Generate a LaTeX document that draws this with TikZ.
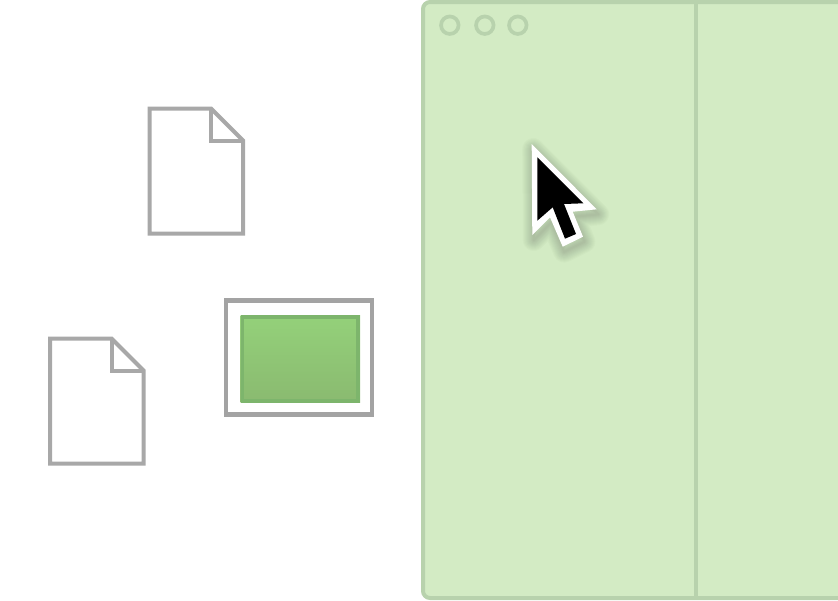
\documentclass[tikz,border=0pt]{standalone}
\definecolor{winfill}{HTML}{D3EBC4}
\definecolor{winline}{HTML}{B8D2AD}
\definecolor{docline}{HTML}{A8A8A8}
\definecolor{selline}{HTML}{A3A3A3}
\definecolor{gtop}{HTML}{94D17A}
\definecolor{gbot}{HTML}{8ABA70}
\definecolor{gline}{HTML}{7DB56C}
\tikzset{
  docline/.style={draw=docline,line width=4pt,miter limit=10,line join=miter},
  winline/.style={draw=winline,line width=4pt},
  dot/.style={circle,draw=winline,line width=3.7pt,minimum size=17.5pt,inner sep=0pt},
}
\newcommand{\docicon}[2]{%
  \begin{scope}[shift={(#1,#2)}]
    \draw[docline,fill=white] (149.5,108.5) -- (211,108.5) -- (243,140.5) -- (243,233.5) -- (149.5,233.5) -- cycle;
    \draw[docline] (211,108.5) -- (211,140.5) -- (243,140.5);
  \end{scope}}
\newcommand{\cursoroutline}{(531.7,144) -- (596.7,209.3) -- (572.7,211.7) -- (583,236.7) -- (562.7,246.7) -- (550,217.3) -- (532.3,235) -- cycle}
\begin{document}
\begin{tikzpicture}[x=1pt,y=-1pt]
\useasboundingbox (0,0) rectangle (838,600);
% application window
\begin{scope}
  \clip (0,0) rectangle (838,600);
  \draw[winline,fill=winfill,rounded corners=7pt] (423,2) rectangle (860,598);
  \draw[winline] (696,0) -- (696,600);
\end{scope}
\node[dot] (d1) at (449.8,25.2) {};
\node[dot] (d2) at (484.8,25.2) {};
\node[dot] (d3) at (517.8,25.2) {};
% documents
\docicon{0}{0}
\docicon{-99.5}{230}
% selection
\draw[selline,line width=4.2pt,fill=white] (226,300.5) rectangle (372,414.5);
\shade[top color=gtop,bottom color=gbot] (240.5,315) rectangle (360,402.5);
\draw[gline,line width=3.6pt] (242.3,316.8) rectangle (358.2,400.7);
% cursor shadow
\begin{scope}[shift={(1.5,5)}]
  \foreach \w in {22,20,18,16,14,12,10,8,6,4,2}{
    \draw[black,draw opacity=0.014,line width=\w pt,line join=round] \cursoroutline;
  }
\end{scope}
\fill[white] \cursoroutline;
\fill[black] (537.3,157.3) -- (583.3,203.3) -- (564,204) -- (576,234) -- (565,238.7) -- (552.7,207.3) -- (537.3,220.7) -- cycle;
\end{tikzpicture}
\end{document}
